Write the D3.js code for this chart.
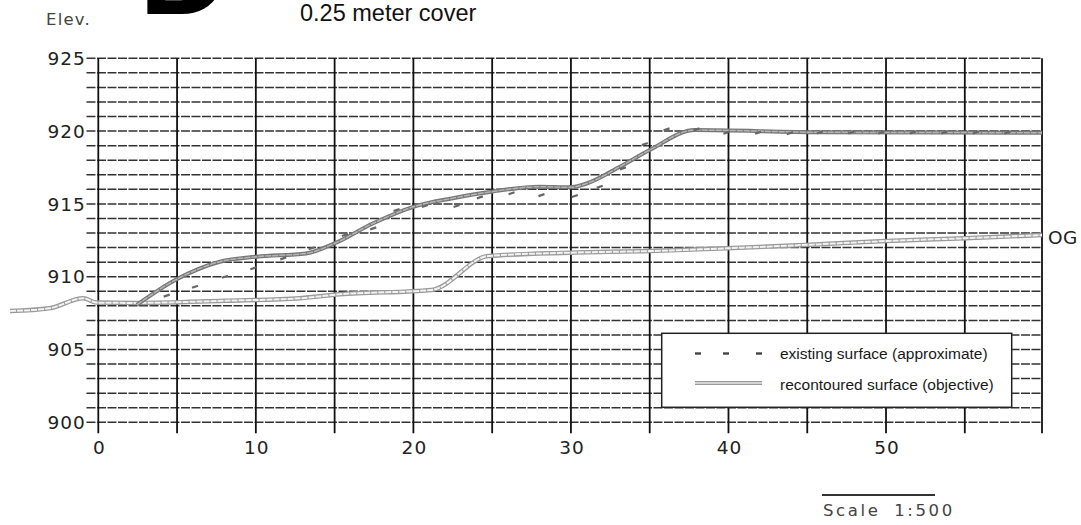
<!DOCTYPE html>
<meta charset="utf-8">
<style>

body {
  margin: 0;
  background: #fff;
}

.hgrid line {
  stroke: #333;
  stroke-width: 1.5;
  stroke-dasharray: 9,1.5;
}

.vgrid line {
  stroke: #111;
  stroke-width: 1.8;
}

.tick-label {
  font: 18.5px "DejaVu Sans", sans-serif;
  letter-spacing: 1px;
  fill: #222;
}

.legend text {
  font: 15.5px "Liberation Sans", Arial, sans-serif;
  fill: #1a1a1a;
}

</style>
<svg width="1081" height="525"></svg>
<script src="https://d3js.org/d3.v7.min.js"></script>
<script>

// original ground (OG)
var ogX    = [-5.6, -3.1, -0.95, -0.1, 2.4, 8, 12.8, 15.3, 21.15, 24.75, 29.9, 35, 39.9, 45.2, 50, 55, 59.9];
var ogElev = [907.64, 907.83, 908.52, 908.22, 908.2, 908.35, 908.52, 908.79, 909.09, 911.42, 911.65, 911.76, 911.95, 912.2, 912.45, 912.64, 912.86];

// recontoured surface (objective)
var recX    = [2.44, 4.97, 7.72, 10.05, 13.2, 15.02, 17.45, 20, 22.5, 24.96, 28, 29.93, 31, 33.1, 35, 37.86, 45.8, 59.9];
var recElev = [908.06, 909.82, 911.03, 911.37, 911.6, 912.3, 913.67, 914.8, 915.39, 915.84, 916.18, 916.14, 916.4, 917.55, 918.7, 920.07, 919.92, 919.89];

// existing surface (approximate)
var exX    = [4.34, 6.14, 8.04, 9.84, 11.74, 13.54, 15.65, 17.45, 18.93, 20.73, 22.74, 24.22, 26.23, 28.13, 30.25, 31.83, 33.3, 34.69, 36.07, 37.97, 39.87, 41.88, 43.89, 45.8, 47.8, 49.7, 51.7, 53.7, 55.7, 57.7];
var exElev = [908.7, 909.31, 910.0, 910.58, 911.26, 911.95, 912.86, 913.32, 914.58, 914.86, 914.86, 915.45, 915.73, 915.6, 915.54, 916.18, 917.44, 919.11, 920.12, 920.12, 919.89, 919.89, 919.85, 919.9, 919.9, 919.9, 919.9, 919.9, 919.9, 919.9];

var xTicks = [0, 10, 20, 30, 40, 50];
var xGrid = [0, 5, 10, 15, 20, 25, 30, 35, 40, 45, 50, 55, 59.9];
var yTicks = [900, 905, 910, 915, 920, 925];
var yGrid = d3.range(900, 926);

var svg = d3.select("svg");

var x = d3.scaleLinear().domain([0, 59.9]).range([98.3, 1042]);
var y = d3.scaleLinear().domain([900, 925]).range([422.3, 58.3]);

// header
svg.append("text")
    .attr("x", 139).attr("y", 13.5)
    .style("font", "bold 125px 'Liberation Sans', Arial, sans-serif")
    .text("D");

svg.append("text")
    .attr("x", 300).attr("y", 21)
    .style("font", "23.5px 'Liberation Sans', Arial, sans-serif")
    .style("fill", "#111")
    .text("0.25 meter cover");

svg.append("text")
    .attr("x", 46).attr("y", 25)
    .style("font", "16.5px 'DejaVu Sans', sans-serif")
    .style("letter-spacing", "1.2px")
    .style("fill", "#444")
    .text("Elev.");

// grid
svg.append("g")
    .attr("class", "hgrid")
  .selectAll("line")
  .data(yGrid)
  .enter().append("line")
    .attr("x1", x(-0.75))
    .attr("x2", x(59.9))
    .attr("y1", function(d) { return y(d); })
    .attr("y2", function(d) { return y(d); });

svg.append("g")
    .attr("class", "vgrid")
  .selectAll("line")
  .data(xGrid)
  .enter().append("line")
    .attr("x1", function(d) { return x(d); })
    .attr("x2", function(d) { return x(d); })
    .attr("y1", y(925))
    .attr("y2", y(900) + 11);

svg.append("g")
  .selectAll("text")
  .data(yTicks)
  .enter().append("text")
    .attr("class", "tick-label")
    .attr("x", x(-0.8))
    .attr("y", function(d) { return y(d); })
    .attr("dy", "0.36em")
    .style("text-anchor", "end")
    .text(function(d) { return d; });

svg.append("g")
  .selectAll("text")
  .data(xTicks)
  .enter().append("text")
    .attr("class", "tick-label")
    .attr("x", function(d) { return x(d) + 1; })
    .attr("y", y(900) + 32)
    .style("text-anchor", "middle")
    .text(function(d) { return d; });

// surfaces
var line = d3.line()
    .x(function(d) { return x(d[0]); })
    .y(function(d) { return y(d[1]); })
    .curve(d3.curveMonotoneX);

var og = d3.zip(ogX, ogElev);
var rec = d3.zip(recX, recElev);

function doubleLine(data, outer, inner, wOuter, wInner) {
  svg.append("path").datum(data)
      .attr("d", line)
      .style("fill", "none")
      .style("stroke", outer)
      .style("stroke-width", wOuter)
      .style("stroke-linejoin", "round");
  svg.append("path").datum(data)
      .attr("d", line)
      .style("fill", "none")
      .style("stroke", inner)
      .style("stroke-width", wInner)
      .style("stroke-dasharray", "6,1");
}

doubleLine(og, "#9a9a9a", "#f2f2f2", 4.5, 2);
doubleLine(rec, "#777", "#b5b5b5", 4, 1.5);

svg.append("g")
  .selectAll("line")
  .data(d3.zip(exX, exElev))
  .enter().append("line")
    .attr("x1", function(d) { return x(d[0]) - 3; })
    .attr("x2", function(d) { return x(d[0]) + 3; })
    .attr("y1", function(d) { return y(d[1]) + 1; })
    .attr("y2", function(d) { return y(d[1]) - 1; })
    .style("stroke", "#666")
    .style("stroke-width", 2.2);

svg.append("text")
    .attr("x", 1048).attr("y", y(912.86) + 2)
    .attr("dy", "0.36em")
    .style("font", "18.5px 'DejaVu Sans', sans-serif")
    .style("letter-spacing", "0.5px")
    .style("fill", "#222")
    .text("OG");

// legend
var legend = svg.append("g").attr("class", "legend");

legend.append("rect")
    .attr("x", 661.7).attr("y", 333.3)
    .attr("width", 350).attr("height", 74)
    .style("fill", "#fff")
    .style("stroke", "#222")
    .style("stroke-width", 1.5);

legend.selectAll(".dash")
  .data([698, 726, 759])
  .enter().append("line")
    .attr("x1", function(d) { return d - 3; })
    .attr("x2", function(d) { return d + 3; })
    .attr("y1", 353.5).attr("y2", 353.5)
    .style("stroke", "#444")
    .style("stroke-width", 2.4);

legend.append("line")
    .attr("x1", 695).attr("x2", 762)
    .attr("y1", 383).attr("y2", 383)
    .style("stroke", "#9a9a9a")
    .style("stroke-width", 4);
legend.append("line")
    .attr("x1", 695).attr("x2", 762)
    .attr("y1", 383).attr("y2", 383)
    .style("stroke", "#e6e6e6")
    .style("stroke-width", 1.5);

legend.append("text")
    .attr("x", 780).attr("y", 359)
    .text("existing surface (approximate)");

legend.append("text")
    .attr("x", 780).attr("y", 389.5)
    .text("recontoured surface (objective)");

// scale bar
svg.append("line")
    .attr("x1", 822).attr("x2", 935)
    .attr("y1", 495).attr("y2", 495)
    .style("stroke", "#333")
    .style("stroke-width", 1.8);

svg.append("text")
    .attr("x", 823).attr("y", 516)
    .style("font", "16.5px 'DejaVu Sans', sans-serif")
    .style("letter-spacing", "2.6px")
    .style("word-spacing", "6px")
    .style("fill", "#444")
    .text("Scale 1:500");

</script>
